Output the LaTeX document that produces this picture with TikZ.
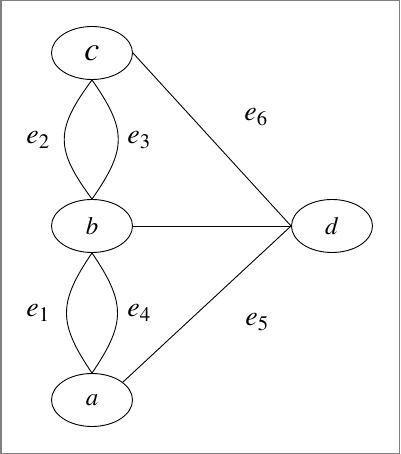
\documentclass[tikz,border=0pt]{standalone}
\usepackage{mathptmx}
\usetikzlibrary{shapes.geometric}

\tikzset{
  vert/.style={draw,ellipse,line width=0.9bp,inner sep=0pt,
    minimum width=81bp,minimum height=53bp,font=\fontsize{25}{30}\selectfont},
  elabel/.style={inner sep=0pt,font=\fontsize{28}{32}\selectfont},
  edge/.style={line width=0.9bp}
}

\begin{document}
\begin{tikzpicture}[x=1bp,y=-1bp]
    \useasboundingbox (0,0) rectangle (400,454);
    \draw[gray,line width=1.5bp] (0.75,0.75) rectangle (399.25,453.25);

    \begin{scope}
      \node[vert] (c) at (92,53) {\fontsize{34}{38}\selectfont$c$};
      \node[vert] (b) at (92,226) {$b$};
      \node[vert] (a) at (92,400) {$a$};
      \node[vert] (d) at (332,226) {$d$};

      % double edges
      \draw[edge] (c.south) .. controls +(-37,50) and +(-37,-50) .. (b.north);
      \draw[edge] (c.south) .. controls +(35,50) and +(35,-50) .. (b.north);
      \draw[edge] (b.south) .. controls +(-34,50) and +(-34,-50) .. (a.north);
      \draw[edge] (b.south) .. controls +(34,50) and +(34,-50) .. (a.north);

      \draw[edge] (c.east) -- (d.west);
      \draw[edge] (b.east) -- (d.west);
      \draw[edge] (a.30) -- (d.west);

      \node[elabel] (e2) at (38,140) {$e_2$};
      \node[elabel] (e3) at (139,140) {$e_3$};
      \node[elabel] (e6) at (256,117) {$e_6$};
      \node[elabel] (e1) at (38,313) {$e_1$};
      \node[elabel] (e4) at (139,313) {$e_4$};
      \node[elabel] (e5) at (257,322) {$e_5$};
    \end{scope}
  \end{tikzpicture}
\end{document}
